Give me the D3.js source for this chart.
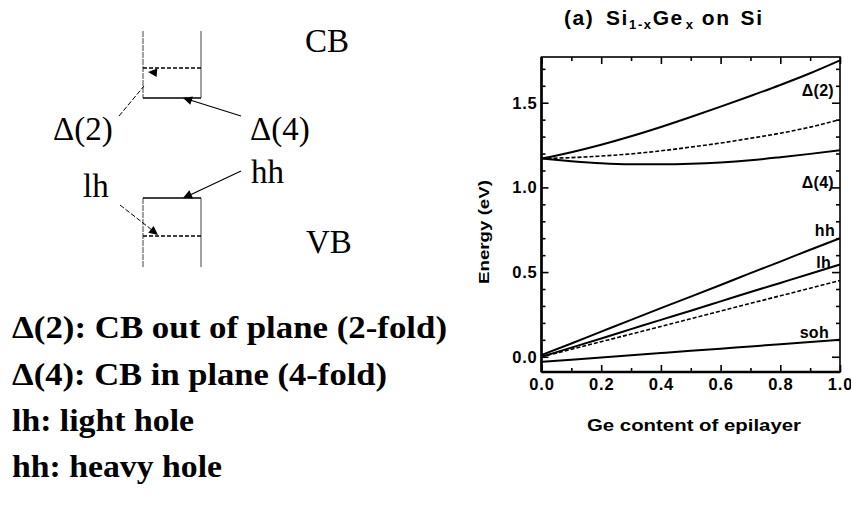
<!DOCTYPE html>
<html><head><meta charset="utf-8">
<script src="https://cdn.jsdelivr.net/npm/d3@7"></script>
<style>
body{margin:0;background:#fff;}
svg{display:block;}
.sans{font-family:"Liberation Sans",Arial,sans-serif;font-weight:bold;}
.serif{font-family:"Liberation Serif","Times New Roman",serif;}
</style></head>
<body><svg id="c" width="851" height="507"></svg>
<script>
// ---- data ----
const geContent = [0,0.1,0.2,0.3,0.4,0.5,0.6,0.7,0.8,0.9,1.0];
const delta2 = [1.17,1.208,1.252,1.302,1.357,1.416,1.477,1.54,1.605,1.674,1.75];
const cbMid  = [1.17,1.176,1.185,1.198,1.216,1.238,1.262,1.29,1.32,1.356,1.40];
const delta4 = [1.17,1.155,1.143,1.137,1.136,1.139,1.147,1.16,1.178,1.198,1.22];
const hh     = [0.01,0.078,0.148,0.218,0.287,0.355,0.424,0.494,0.562,0.632,0.70];
const lh     = [0.0,0.054,0.108,0.163,0.218,0.272,0.327,0.382,0.436,0.49,0.545];
const vbMid  = [0.0,0.044,0.089,0.134,0.179,0.225,0.27,0.315,0.36,0.405,0.45];
const soh    = [-0.03,-0.017,-0.004,0.009,0.022,0.035,0.048,0.061,0.074,0.087,0.10];
const xMajorTicks = [0,0.2,0.4,0.6,0.8,1.0];
const xMinorTicks = [0.1,0.3,0.5,0.7,0.9];
const yMajorTicks = [0,0.5,1.0,1.5];
const yMinorTicks = [0.1,0.2,0.3,0.4,0.6,0.7,0.8,0.9,1.1,1.2,1.3,1.4,1.6,1.7];
const curveLabels = ["Δ(2)","Δ(4)","hh","lh","soh"];
const legendLines = ["Δ(2):  CB out of plane (2-fold)","Δ(4):  CB in plane (4-fold)","lh: light hole","hh: heavy hole"];

const svg = d3.select("#c");

// ---- chart ----
const L=541.5, R=840, T=57, B=372;
const x = d3.scaleLinear().domain([0,1]).range([L,R]);
const y = d3.scaleLinear().domain([-0.09,1.77]).range([B,T]);

svg.append("rect").attr("x",L).attr("y",T).attr("width",R-L).attr("height",B-T)
  .attr("fill","none").attr("stroke","#000").attr("stroke-width",1.6);
svg.append("line").attr("x1",L).attr("x2",L).attr("y1",T).attr("y2",B).attr("stroke","#000").attr("stroke-width",2.6);
svg.append("line").attr("x1",L).attr("x2",R).attr("y1",B).attr("y2",B).attr("stroke","#000").attr("stroke-width",2.6);

function styleAxis(g){ g.select(".domain").remove(); g.selectAll(".tick line").attr("stroke","#000").attr("stroke-width",1.6); }
function styleLabels(sel){ sel.attr("class","sans").attr("font-size",16.5).attr("fill","#000").attr("letter-spacing",0.8); }

svg.append("g").attr("transform",`translate(0,${B})`)
  .call(d3.axisBottom(x).tickValues(xMajorTicks).tickSize(-7).tickPadding(6).tickFormat(d3.format(".1f")))
  .call(styleAxis).selectAll("text").call(styleLabels);
svg.append("g").attr("transform",`translate(0,${B})`)
  .call(d3.axisBottom(x).tickValues(xMinorTicks).tickSize(-4).tickFormat("")).call(styleAxis);
svg.append("g").attr("transform",`translate(0,${T})`)
  .call(d3.axisTop(x).tickValues(xMajorTicks).tickSize(-7).tickFormat("")).call(styleAxis);
svg.append("g").attr("transform",`translate(0,${T})`)
  .call(d3.axisTop(x).tickValues(xMinorTicks).tickSize(-4).tickFormat("")).call(styleAxis);
svg.append("g").attr("transform",`translate(${L},0)`)
  .call(d3.axisLeft(y).tickValues(yMajorTicks).tickSize(-7).tickPadding(4).tickFormat(d3.format(".1f")))
  .call(styleAxis).selectAll("text").call(styleLabels);
svg.append("g").attr("transform",`translate(${L},0)`)
  .call(d3.axisLeft(y).tickValues(yMinorTicks).tickSize(-4).tickFormat("")).call(styleAxis);
svg.append("g").attr("transform",`translate(${R},0)`)
  .call(d3.axisRight(y).tickValues(yMajorTicks).tickSize(-8).tickFormat("")).call(styleAxis);
svg.append("g").attr("transform",`translate(${R},0)`)
  .call(d3.axisRight(y).tickValues(yMinorTicks).tickSize(-4).tickFormat("")).call(styleAxis);

const line = d3.line().x((d,i)=>x(geContent[i])).y(d=>y(d)).curve(d3.curveMonotoneX);
[delta2,delta4,hh,lh,soh].forEach(s=>svg.append("path").attr("d",line(s)).attr("fill","none").attr("stroke","#000").attr("stroke-width",2));
[cbMid,vbMid].forEach(s=>svg.append("path").attr("d",line(s)).attr("fill","none").attr("stroke","#000").attr("stroke-width",1.6).attr("stroke-dasharray","4,2"));

const labelPos = [[834,96],[834,188],[835,236],[831,268],[829,338]];
curveLabels.forEach((t,i)=>{
  svg.append("text").attr("class","sans").attr("x",labelPos[i][0]).attr("y",labelPos[i][1])
    .attr("text-anchor","end").attr("font-size",16).attr("letter-spacing",0.3).text(t);
});

svg.append("text").attr("class","sans").attr("font-size",16).attr("text-anchor","middle")
  .attr("x",694).attr("y",431).attr("textLength",214).attr("lengthAdjust","spacingAndGlyphs")
  .text("Ge content of epilayer");
svg.append("text").attr("class","sans").attr("font-size",15).attr("text-anchor","middle")
  .attr("transform","translate(489,232) rotate(-90)").attr("textLength",104).attr("lengthAdjust","spacingAndGlyphs")
  .text("Energy (eV)");

// title
const title = svg.append("text").attr("class","sans").attr("font-size",21).attr("letter-spacing",1.6).attr("y",25);
title.append("tspan").attr("x",564).text("(a)");
title.append("tspan").attr("x",606).text("Si");
title.append("tspan").attr("font-size",13).attr("dy",4).text("1-x");
title.append("tspan").attr("dy",-4).text("Ge");
title.append("tspan").attr("font-size",13).attr("dy",4).attr("dx",2).text("x");
title.append("tspan").attr("dy",-4).attr("dx",7).text("on");
title.append("tspan").attr("dx",10).text("Si");

// ---- band diagram ----
const g = svg.append("g");
function ln(x1,y1,x2,y2,w,dash,col){
  const l=g.append("line").attr("x1",x1).attr("y1",y1).attr("x2",x2).attr("y2",y2)
    .attr("stroke",col||"#000").attr("stroke-width",w);
  if(dash) l.attr("stroke-dasharray",dash);
  return l;
}
ln(143,31,143,98,1,"6,1","#444");
ln(201,31,201,98,1,null,"#444");
ln(143,98,201,98,1.4);
ln(143,68,201,68,1.4,"4,2");
ln(143,198,143,267,1,"6,1","#444");
ln(201,198,201,267,1,null,"#444");
ln(143,198,201,198,1.4);
ln(143,236,201,236,1.4,"4,2");
function head(tx,ty,fx,fy){
  const a=Math.atan2(ty-fy,tx-fx), len=10, w=0.45;
  const p=[[tx,ty],[tx-len*Math.cos(a-w),ty-len*Math.sin(a-w)],[tx-len*Math.cos(a+w),ty-len*Math.sin(a+w)]];
  g.append("path").attr("d","M"+p.join("L")+"Z").attr("fill","#000");
}
ln(119,116,144,86,1,"5,2");
head(148,72,160,73);
ln(241,116,190,100,1.2); head(183,98,241,116);
ln(241,171,190,195,1.2); head(183,198,241,171);
ln(120,205,152,230,1,"5,2"); head(158,235,120,205);

const dl = [["CB",305,52],["Δ(2)",53,140],["Δ(4)",250,140],["hh",251,183],["lh",83,197],["VB",306,253]];
dl.forEach(d=>g.append("text").attr("class","serif").attr("font-size",33).attr("x",d[1]).attr("y",d[2]).text(d[0]));

const ly=[338,385,431,477], lw=[435,375,182,210];
legendLines.forEach((t,i)=>{
  svg.append("text").attr("class","serif").attr("font-weight","bold").attr("font-size",32)
    .attr("x",12).attr("y",ly[i]).attr("textLength",lw[i]).attr("lengthAdjust","spacingAndGlyphs").text(t);
});
</script></body></html>
